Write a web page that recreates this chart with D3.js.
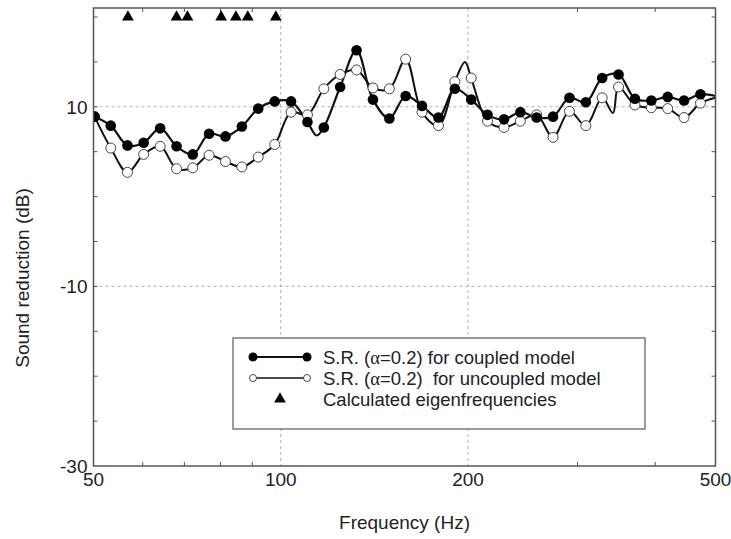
<!DOCTYPE html>
<html><head><meta charset="utf-8">
<script src="https://cdn.jsdelivr.net/npm/d3@7"></script>
<style>body{margin:0;background:#fff} svg{display:block} text{font-family:"Liberation Sans",Arial,sans-serif;}</style>
</head><body><svg id="c" width="731" height="539"></svg>
<script>
// Frequencies (Hz) of the plotted points
const freqs = [50.2,53.3,56.7,60.2,64.0,68.0,72.2,76.7,81.5,86.6,92.0,97.8,103.9,110.4,117.3,124.6,132.4,140.7,149.5,158.8,168.7,179.3,190.5,202.4,215.0,228.5,242.8,257.9,274.0,291.2,309.4,328.7,349.2,371.1,394.3,418.9,445.1,472.9];
// Sound reduction (dB), coupled model
const coupled = [8.9,7.9,5.7,6.0,7.6,5.6,4.7,7.0,6.7,7.8,9.8,10.6,10.6,8.3,7.7,12.2,16.3,10.8,8.7,11.2,10.1,8.8,12.0,10.8,9.1,8.6,9.4,8.8,8.9,11.0,10.5,13.2,13.6,10.9,10.7,11.1,10.7,11.4];
// Sound reduction (dB), uncoupled model
const uncoupled = [8.9,5.4,2.7,4.7,5.6,3.1,3.2,4.6,3.9,3.3,4.4,5.8,9.4,9.1,12.0,13.6,14.1,12.1,12.0,15.3,9.4,7.9,12.8,13.2,8.4,7.7,8.4,9.1,6.6,9.5,7.9,11.0,12.2,10.2,9.9,9.8,8.8,10.4];
// extra line vertices (no marker)
const coupledLineFreq = [114.2,500];
const coupledLineVal = [6.8,11.2];
const uncoupledLineFreq = [197.8,342.0,500];
const uncoupledLineVal = [15.0,9.3,11.0];
// calculated eigenfrequencies (Hz)
const eigenFreqs = [56.8,68.0,70.8,80.2,84.7,88.5,98.2];
const eigenLevel = 20;
// axes
const xTickLabels = [50,100,200,500];
const xMinorTicks = [60,70,80,90,300,400];
const yTickLabels = [10,-10,-30];
const yMinorTicks = [20,15,5,0,-5,-15,-20,-25];
const xGrid = [100,200];
const yGrid = [10,-10];

const svg = d3.select("#c");
const L=93.5, R=715.5, T=8, B=466;
const x = d3.scaleLog().domain([50,500]).range([L,R]);
const y = d3.scaleLinear().domain([-30,21]).range([B,T]);

svg.append("defs").append("clipPath").attr("id","clip")
  .append("rect").attr("x",L).attr("y",T).attr("width",R-L).attr("height",B-T);

// grid
svg.selectAll(".gx").data(xGrid).join("line")
  .attr("x1",d=>x(d)).attr("x2",d=>x(d)).attr("y1",T).attr("y2",B)
  .attr("stroke","#9a9a9a").attr("stroke-width",0.8).attr("stroke-dasharray","3,3");
svg.selectAll(".gy").data(yGrid).join("line")
  .attr("y1",d=>y(d)).attr("y2",d=>y(d)).attr("x1",L).attr("x2",R)
  .attr("stroke","#9a9a9a").attr("stroke-width",0.8).attr("stroke-dasharray","3,3");

// minor ticks (inward, all sides)
const tk=4;
const tg = svg.append("g").attr("stroke","#555").attr("stroke-width",1);
xMinorTicks.forEach(f=>{
  tg.append("line").attr("x1",x(f)).attr("x2",x(f)).attr("y1",B).attr("y2",B-tk);
  tg.append("line").attr("x1",x(f)).attr("x2",x(f)).attr("y1",T).attr("y2",T+tk);
});
yMinorTicks.concat(yGrid).forEach(v=>{
  tg.append("line").attr("y1",y(v)).attr("y2",y(v)).attr("x1",L).attr("x2",L+tk);
  tg.append("line").attr("y1",y(v)).attr("y2",y(v)).attr("x1",R).attr("x2",R-tk);
});

// lines
const line = d3.line().x(d=>x(d[0])).y(d=>y(d[1])).curve(d3.curveCatmullRom.alpha(0.5));
function pts(fr,vals,ef,ev){
  const p = fr.map((f,i)=>[f,vals[i]]).concat(ef.map((f,i)=>[f,ev[i]]));
  return p.sort((a,b)=>a[0]-b[0]);
}
const plot = svg.append("g").attr("clip-path","url(#clip)");
plot.append("path").attr("d",line(pts(freqs,uncoupled,uncoupledLineFreq,uncoupledLineVal)))
  .attr("fill","none").attr("stroke","#111").attr("stroke-width",2);
plot.append("path").attr("d",line(pts(freqs,coupled,coupledLineFreq,coupledLineVal)))
  .attr("fill","none").attr("stroke","#111").attr("stroke-width",2.2);

plot.selectAll(".mu").data(freqs).join("circle")
  .attr("cx",d=>x(d)).attr("cy",(d,i)=>y(uncoupled[i])).attr("r",5)
  .attr("fill","#fff").attr("stroke","#444").attr("stroke-width",1);
plot.selectAll(".mc").data(freqs).join("circle")
  .attr("cx",d=>x(d)).attr("cy",(d,i)=>y(coupled[i])).attr("r",5.3)
  .attr("fill","#000");

// eigenfrequency triangles
const tri = d3.symbol().type(d3.symbolTriangle).size(60);
svg.selectAll(".tri").data(eigenFreqs).join("path")
  .attr("d",tri).attr("transform",d=>`translate(${x(d)},${y(eigenLevel)})`).attr("fill","#000");

// frame
svg.append("rect").attr("x",L).attr("y",T).attr("width",R-L).attr("height",B-T)
  .attr("fill","none").attr("stroke","#555").attr("stroke-width",1.5);

// tick labels
svg.selectAll(".xl").data(xTickLabels).join("text")
  .attr("x",d=>x(d)).attr("y",B+20).attr("text-anchor","middle")
  .attr("font-size",19).attr("fill","#222").text(d=>d);
svg.selectAll(".yl").data(yTickLabels).join("text")
  .attr("x",L-6).attr("y",d=>y(d)).attr("dy","0.36em").attr("text-anchor","end")
  .attr("font-size",19).attr("fill","#222").text(d=>d);

// axis titles
svg.append("text").attr("x",(L+R)/2).attr("y",529).attr("text-anchor","middle")
  .attr("font-size",19).attr("fill","#222").text("Frequency (Hz)");
svg.append("text").attr("transform",`translate(29,278) rotate(-90)`)
  .attr("text-anchor","middle").attr("font-size",19).attr("fill","#222").text("Sound reduction (dB)");

// legend
const lg = svg.append("g");
lg.append("rect").attr("x",233).attr("y",338).attr("width",412).attr("height",91)
  .attr("fill","#fff").attr("stroke","#666").attr("stroke-width",1.3);
const rows=[357,378,399];
const lx1=253, lx2=307, tx=323;
lg.append("line").attr("x1",lx1).attr("x2",lx2).attr("y1",rows[0]).attr("y2",rows[0]).attr("stroke","#111").attr("stroke-width",1.8);
[lx1,lx2].forEach(cx=>lg.append("circle").attr("cx",cx).attr("cy",rows[0]).attr("r",4.5).attr("fill","#000"));
lg.append("line").attr("x1",lx1).attr("x2",lx2).attr("y1",rows[1]).attr("y2",rows[1]).attr("stroke","#111").attr("stroke-width",1.5);
[lx1,lx2].forEach(cx=>lg.append("circle").attr("cx",cx).attr("cy",rows[1]).attr("r",3.5).attr("fill","#fff").attr("stroke","#444"));
lg.append("path").attr("d",tri).attr("transform",`translate(${(lx1+lx2)/2},${rows[2]})`).attr("fill","#000");
const labels=[["S.R. (","α","=0.2) for coupled model"],["S.R. (","α","=0.2)  for uncoupled model"],["Calculated eigenfrequencies"]];
labels.forEach((parts,i)=>{
  const t=lg.append("text").attr("x",tx).attr("y",rows[i]).attr("dy","0.36em")
    .attr("font-size",18.5).attr("fill","#222").style("white-space","pre");
  parts.forEach((p,j)=>{
    const s=t.append("tspan").text(p);
    if(p==="α") s.style("font-family","'Liberation Serif','DejaVu Serif',serif");
  });
});
</script></body></html>
